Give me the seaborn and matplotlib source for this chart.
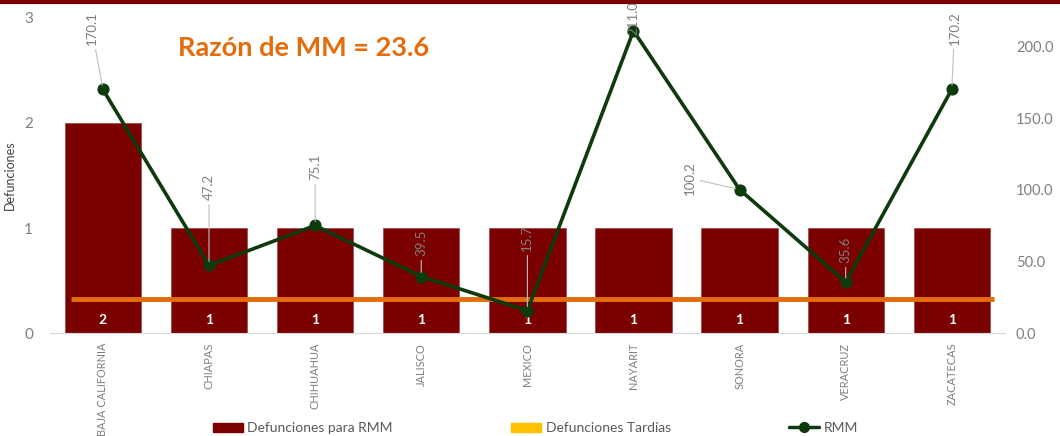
import numpy as np
import matplotlib
matplotlib.use("Agg")
import matplotlib.pyplot as plt
from matplotlib.patches import Patch
from matplotlib.lines import Line2D
import seaborn as sns

# ─── Datos ────────────────────────────────────────────────────────────────────
estados = ["BAJA CALIFORNIA", "CHIAPAS", "CHIHUAHUA", "JALISCO", "MEXICO",
           "NAYARIT", "SONORA", "VERACRUZ", "ZACATECAS"]
defunciones = [2, 1, 1, 1, 1, 1, 1, 1, 1]
rmm = [170.1, 47.2, 75.1, 39.5, 15.7, 211.0, 100.2, 35.6, 170.2]
razon_mm = 23.6

# desplazamiento de etiquetas RMM (puntos): (dx, dy)
offsets = [(-8, 32), (0, 47), (0, 33), (0, 15), (0, 43), (0, -3), (-36, -4), (0, 14), (2, 32)]

# ─── Estilo ───────────────────────────────────────────────────────────────────
sns.set_style("white")
plt.rcParams["font.family"] = ["Lato", "DejaVu Sans"]
GRIS = "#7f7f7f"
GUINDA = "#7b0000"
VERDE = "#0d3b0d"
NARANJA = "#e46c0a"

fig = plt.figure(figsize=(10.6, 4.36), dpi=100)
ax = fig.add_axes([0.047, 0.236, 0.901, 0.723])

x = np.arange(len(estados))
sns.barplot(x=estados, y=defunciones, color=GUINDA, saturation=1, width=0.72,
            edgecolor="#a05050", linewidth=0.6, ax=ax)
ax.set_ylim(0, 3)
ax.set_xlim(-0.5, len(estados) - 0.5)
ax.set_yticks([0, 1, 2, 3])
ax.set_ylabel("Defunciones", fontsize=9, color="#404040", labelpad=6)
ax.tick_params(axis="y", colors=GRIS, labelsize=11, length=0, pad=12)
ax.tick_params(axis="x", colors=GRIS, length=0, pad=7)
ax.set_xticks(x)
ax.set_xticklabels(estados, rotation=90, va="top", fontsize=7.9)
for s in ["top", "right", "left"]:
    ax.spines[s].set_visible(False)
ax.spines["bottom"].set_color("#d9d9d9")

for i, v in enumerate(defunciones):
    ax.text(i, 0.12, str(v), color="white", fontsize=10, fontweight="bold",
            ha="center", va="center")

ax2 = ax.twinx()
ax2.hlines(razon_mm, -0.3, 8.4, color=NARANJA, lw=3.5, zorder=2)
sns.lineplot(x=x, y=rmm, color=VERDE, lw=2.6, marker="o", markersize=8,
             markeredgecolor=VERDE, ax=ax2, zorder=3)
ax2.set_ylim(0, 220)
ax2.set_yticks([0, 50, 100, 150, 200])
ax2.set_yticklabels([f"{t:.1f}" for t in [0, 50, 100, 150, 200]])
ax2.tick_params(axis="y", colors=GRIS, labelsize=10.5, length=0, pad=8)
for s in ["top", "right", "left", "bottom"]:
    ax2.spines[s].set_visible(False)
ax2.set_xlim(-0.5, len(estados) - 0.5)

for i, (v, (dx, dy)) in enumerate(zip(rmm, offsets)):
    flecha = None
    if abs(dx) + abs(dy) > 5:
        flecha = dict(arrowstyle="-", color="#bfbfbf", lw=0.8, shrinkA=1, shrinkB=3)
    ax2.annotate(f"{v:.1f}", xy=(i, v), xytext=(dx, dy), textcoords="offset points",
                 rotation=90, ha="center", va="bottom", fontsize=9.5, color=GRIS,
                 arrowprops=flecha, zorder=4)

fig.text(0.168, 0.89, f"Razón de MM = {razon_mm}", color=NARANJA, fontsize=19.5,
         fontweight="bold", ha="left", va="center")

# línea superior
fig.add_artist(Line2D([0, 1], [0.996, 0.996], color="#7b0000", lw=3,
                      transform=fig.transFigure))

handles = [Patch(color=GUINDA), Patch(color="#ffc000"),
           Line2D([], [], color=VERDE, lw=2.5, marker="o", markersize=7)]
labels = ["Defunciones para RMM", "Defunciones Tardías", "RMM"]
fig.legend(handles, labels, loc="center", bbox_to_anchor=(0.505, 0.018), ncol=3,
           frameon=False, fontsize=10, labelcolor="#595959", columnspacing=8.5,
           handlelength=2.2, handleheight=0.6, handletextpad=0.3)

fig.savefig("out.png", dpi=100)
